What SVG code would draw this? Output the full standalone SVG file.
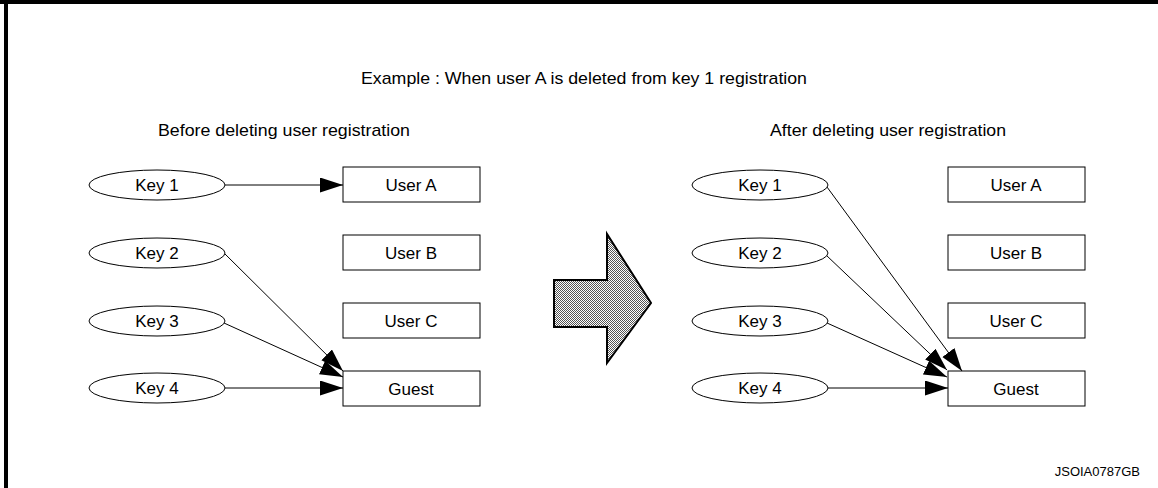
<svg xmlns="http://www.w3.org/2000/svg" width="1158" height="488" viewBox="0 0 1158 488">
<style>
text{font-family:"Liberation Sans",Arial,sans-serif;fill:#000}
.t{font-size:17px;text-anchor:middle}
.k{fill:#fff;stroke:#000;stroke-width:1}
.c{stroke:#000;stroke-width:1;fill:none;marker-end:url(#ah)}
</style>
<defs>
<marker id="ah" markerUnits="userSpaceOnUse" markerWidth="24" markerHeight="16" refX="23" refY="7.5" orient="auto">
<path d="M0,0 L23,7.5 L0,15 Z" fill="#000"/>
</marker>
<pattern id="dots" width="2" height="2" patternUnits="userSpaceOnUse">
<rect width="2" height="2" fill="#fff"/>
<rect x="0" y="0" width="1" height="1" fill="#555"/>
<rect x="1" y="1" width="1" height="1" fill="#555"/>
</pattern>
</defs>
<rect width="1158" height="488" fill="#fff"/>
<g id="frame">
<rect x="0" y="0" width="1158" height="4" fill="#000"/>
<rect x="4" y="0" width="4" height="488" fill="#000"/>
</g>
<g id="titles">
<text class="t" x="584" y="84" textLength="446" lengthAdjust="spacingAndGlyphs">Example : When user A is deleted from key 1 registration</text>
<text class="t" x="284" y="136" textLength="252" lengthAdjust="spacingAndGlyphs">Before deleting user registration</text>
<text class="t" x="888" y="136" textLength="236" lengthAdjust="spacingAndGlyphs">After deleting user registration</text>
<text x="1140" y="476" font-size="13" text-anchor="end">JSOIA0787GB</text>
</g>
<g id="connectors">
<line class="c" x1="225" y1="185" x2="343" y2="185"/>
<line class="c" x1="223" y1="252" x2="343" y2="371"/>
<line class="c" x1="224" y1="323" x2="343" y2="377"/>
<line class="c" x1="225" y1="388" x2="343" y2="388"/>
<line class="c" x1="827" y1="187" x2="962" y2="371"/>
<line class="c" x1="826" y1="255" x2="947" y2="370"/>
<line class="c" x1="827" y1="323" x2="947" y2="377"/>
<line class="c" x1="828" y1="388" x2="948" y2="388"/>
</g>
<g id="bigArrow">
<polygon points="554,280 607,280 607,234 651,303 607,363 607,327 554,327" fill="url(#dots)" stroke="#000" stroke-width="2"/>
</g>
<g id="before-key1"><ellipse class="k" cx="157" cy="185" rx="68" ry="15"/><text class="t" x="157" y="191">Key 1</text></g>
<g id="before-key2"><ellipse class="k" cx="157" cy="253" rx="68" ry="15"/><text class="t" x="157" y="259">Key 2</text></g>
<g id="before-key3"><ellipse class="k" cx="157" cy="321" rx="68" ry="15"/><text class="t" x="157" y="327">Key 3</text></g>
<g id="before-key4"><ellipse class="k" cx="157" cy="388" rx="68" ry="15"/><text class="t" x="157" y="394">Key 4</text></g>
<g id="before-userA"><rect class="k" x="343" y="167" width="137" height="35"/><text class="t" x="411" y="191">User A</text></g>
<g id="before-userB"><rect class="k" x="343" y="235" width="137" height="35"/><text class="t" x="411" y="259">User B</text></g>
<g id="before-userC"><rect class="k" x="343" y="303" width="137" height="35"/><text class="t" x="411" y="327">User C</text></g>
<g id="before-guest"><rect class="k" x="343" y="371" width="137" height="35"/><text class="t" x="411" y="395">Guest</text></g>
<g id="after-key1"><ellipse class="k" cx="760" cy="185" rx="68" ry="15"/><text class="t" x="760" y="191">Key 1</text></g>
<g id="after-key2"><ellipse class="k" cx="760" cy="253" rx="68" ry="15"/><text class="t" x="760" y="259">Key 2</text></g>
<g id="after-key3"><ellipse class="k" cx="760" cy="321" rx="68" ry="15"/><text class="t" x="760" y="327">Key 3</text></g>
<g id="after-key4"><ellipse class="k" cx="760" cy="388" rx="68" ry="15"/><text class="t" x="760" y="394">Key 4</text></g>
<g id="after-userA"><rect class="k" x="948" y="167" width="137" height="35"/><text class="t" x="1016" y="191">User A</text></g>
<g id="after-userB"><rect class="k" x="948" y="235" width="137" height="35"/><text class="t" x="1016" y="259">User B</text></g>
<g id="after-userC"><rect class="k" x="948" y="303" width="137" height="35"/><text class="t" x="1016" y="327">User C</text></g>
<g id="after-guest"><rect class="k" x="948" y="371" width="137" height="35"/><text class="t" x="1016" y="395">Guest</text></g>
</svg>
